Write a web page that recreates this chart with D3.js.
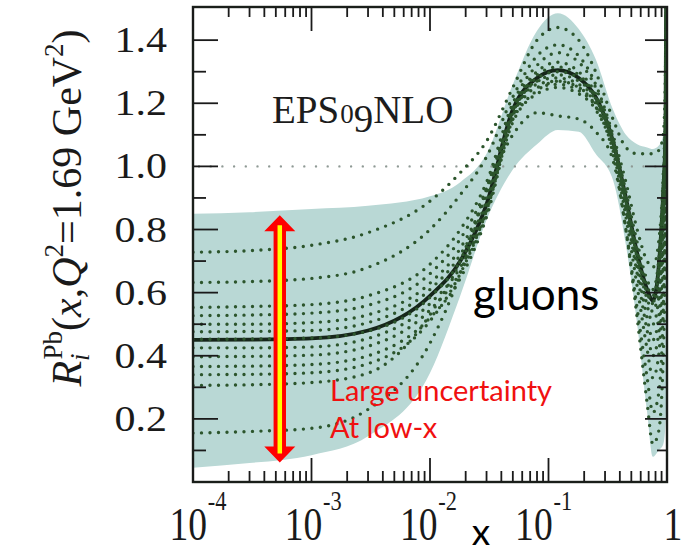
<!DOCTYPE html>
<html>
<head>
<meta charset="utf-8">
<script src="https://cdn.jsdelivr.net/npm/d3@7"></script>
<style>
  html, body { margin: 0; padding: 0; background: #fff; }
  svg { display: block; }
</style>
</head>
<body>
<svg id="chart" width="690" height="554"></svg>
<script>
// Sampling points in x (Bjorken x)
const xKnots = [1e-4, 3e-4, 1e-3, 3e-3, 0.01, 0.018, 0.03, 0.05, 0.08, 0.12, 0.18, 0.25, 0.35, 0.45, 0.56, 0.68, 0.76, 0.85, 0.93, 0.97, 1.0];

// Uncertainty band (upper / lower edge)
const bandUpper = [0.85, 0.855, 0.865, 0.875, 0.905, 0.95, 1.04, 1.26, 1.43, 1.485, 1.435, 1.34, 1.18, 1.10, 1.07, 1.06, 1.055, 1.065, 1.10, 1.30, 2.0];
const bandLower = [0.045, 0.06, 0.085, 0.145, 0.345, 0.59, 0.83, 0.99, 1.07, 1.115, 1.11, 1.04, 0.957, 0.75, 0.50, 0.22, 0.08, 0.10, 0.12, 0.18, 0.30];

// Central fit
const central = [0.45, 0.451, 0.455, 0.48, 0.59, 0.70, 0.88, 1.18, 1.28, 1.305, 1.28, 1.22, 1.08, 0.90, 0.725, 0.61, 0.575, 0.68, 0.92, 1.10, 2.0];

// Error-set members (dotted)
const member1  = [0.728, 0.733, 0.75, 0.79, 0.89, 0.98, 1.08, 1.25, 1.40, 1.44, 1.40, 1.30, 1.15, 1.06, 1.04, 1.04, 1.04, 1.05, 1.10, 1.30, 2.0];
const member2  = [0.632, 0.635, 0.645, 0.68, 0.80, 0.91, 1.03, 1.22, 1.35, 1.385, 1.35, 1.26, 1.10, 0.95, 0.80, 0.70, 0.68, 0.76, 0.98, 1.20, 2.0];
const member3  = [0.553, 0.556, 0.562, 0.59, 0.69, 0.80, 0.95, 1.20, 1.32, 1.36, 1.33, 1.25, 1.09, 0.92, 0.76, 0.64, 0.61, 0.70, 0.95, 1.15, 2.0];
const member4  = [0.527, 0.529, 0.535, 0.56, 0.66, 0.77, 0.93, 1.19, 1.30, 1.33, 1.30, 1.23, 1.08, 0.91, 0.74, 0.62, 0.59, 0.68, 0.93, 1.10, 2.0];
const member5  = [0.50, 0.50, 0.505, 0.53, 0.63, 0.74, 0.91, 1.18, 1.29, 1.315, 1.29, 1.22, 1.08, 0.90, 0.73, 0.60, 0.57, 0.67, 0.92, 1.10, 2.0];
const member6  = [0.476, 0.477, 0.48, 0.505, 0.61, 0.72, 0.89, 1.18, 1.28, 1.30, 1.28, 1.22, 1.085, 0.895, 0.72, 0.60, 0.565, 0.66, 0.91, 1.10, 2.0];
const member7  = [0.452, 0.453, 0.456, 0.478, 0.585, 0.70, 0.875, 1.17, 1.27, 1.29, 1.27, 1.215, 1.075, 0.89, 0.71, 0.58, 0.54, 0.62, 0.88, 1.10, 2.0];
const member8  = [0.425, 0.425, 0.428, 0.455, 0.565, 0.68, 0.86, 1.16, 1.27, 1.28, 1.26, 1.21, 1.07, 0.88, 0.70, 0.56, 0.50, 0.58, 0.85, 1.10, 2.0];
const member9  = [0.397, 0.398, 0.402, 0.43, 0.545, 0.665, 0.85, 1.16, 1.26, 1.27, 1.25, 1.20, 1.07, 0.87, 0.68, 0.52, 0.45, 0.52, 0.80, 1.05, 2.0];
const member10 = [0.366, 0.367, 0.372, 0.40, 0.52, 0.645, 0.84, 1.15, 1.25, 1.26, 1.24, 1.19, 1.06, 0.86, 0.66, 0.48, 0.40, 0.47, 0.75, 1.00, 2.0];
const member11 = [0.34, 0.341, 0.346, 0.375, 0.51, 0.66, 0.86, 1.14, 1.23, 1.25, 1.23, 1.18, 1.05, 0.84, 0.62, 0.42, 0.33, 0.40, 0.70, 1.00, 2.0];
const member12 = [0.306, 0.308, 0.315, 0.345, 0.53, 0.70, 0.92, 1.10, 1.17, 1.16, 1.15, 1.11, 1.02, 0.80, 0.55, 0.33, 0.22, 0.28, 0.55, 0.90, 2.0];
const member13 = [0.155, 0.16, 0.17, 0.23, 0.44, 0.66, 0.93, 1.15, 1.24, 1.27, 1.25, 1.19, 1.04, 0.80, 0.52, 0.25, 0.12, 0.16, 0.40, 0.80, 2.0];
const members = [member1, member2, member3, member4, member5, member6, member7, member8, member9, member10, member11, member12, member13];

// Axis ticks and labels
const xDecades = [-4, -3, -2, -1, 0];
const yTickValues = [0.2, 0.4, 0.6, 0.8, 1.0, 1.2, 1.4];
const yTickLabels = ["0.2", "0.4", "0.6", "0.8", "1.0", "1.2", "1.4"];
const yMinorValues = [0.1, 0.3, 0.5, 0.7, 0.9, 1.1, 1.3];

// Annotation arrow (x position, top and bottom value)
const arrowX = 5.4e-4;
const arrowTop = 0.845;
const arrowBottom = 0.062;

const svg = d3.select("#chart");
const x = d3.scaleLog().domain([1e-4, 1]).range([193, 667]);
const y = d3.scaleLinear().domain([0, 1.505]).range([482, 7]);

const [x0, x1] = x.range();
const [yb, yt] = y.range();

svg.append("defs").append("clipPath").attr("id", "plotclip")
  .append("rect").attr("x", x0).attr("y", yt).attr("width", x1 - x0).attr("height", yb - yt);

const plot = svg.append("g").attr("clip-path", "url(#plotclip)");

const pts = arr => xKnots.map((xv, i) => [xv, arr[i]]);

// band
const area = d3.area()
  .x(d => x(d[0]))
  .y0(d => y(d[1]))
  .y1(d => y(d[2]))
  .curve(d3.curveMonotoneX);
plot.append("path")
  .datum(xKnots.map((xv, i) => [xv, bandLower[i], bandUpper[i]]))
  .attr("d", area)
  .attr("fill", "#b9d8d5");

// reference line at R = 1
plot.append("line")
  .attr("x1", x0 + 6).attr("x2", x1)
  .attr("y1", y(1)).attr("y2", y(1))
  .attr("stroke", "#8f9a95")
  .attr("stroke-width", 2.4)
  .attr("stroke-linecap", "round")
  .attr("stroke-dasharray", "0 11.7");

const line = d3.line()
  .x(d => x(d[0]))
  .y(d => y(d[1]))
  .curve(d3.curveMonotoneX);

// central fit (drawn under the dotted members)
plot.append("path")
  .attr("d", line(pts(central)))
  .attr("fill", "none")
  .attr("stroke", "#16261a")
  .attr("stroke-width", 3.8);

// error-set members
plot.selectAll("path.member")
  .data(members)
  .join("path")
  .attr("class", "member")
  .attr("d", m => line(pts(m)))
  .attr("fill", "none")
  .attr("stroke", "#2c552c")
  .attr("stroke-width", 3.4)
  .attr("stroke-linecap", "round")
  .attr("stroke-dasharray", "0 8.5");

// frame
svg.append("rect")
  .attr("x", x0).attr("y", yt)
  .attr("width", x1 - x0).attr("height", yb - yt)
  .attr("fill", "none")
  .attr("stroke", "#1a1f1a")
  .attr("stroke-width", 2.4);

// x ticks (bottom and top)
const ticks = svg.append("g").attr("stroke", "#1a1a1a").attr("stroke-width", 1.8);
const xMajor = xDecades.map(k => Math.pow(10, k));
const xMinor = [];
xDecades.slice(0, -1).forEach(k => { for (let m = 2; m <= 9; m++) xMinor.push(m * Math.pow(10, k)); });

xMajor.forEach(v => {
  ticks.append("line").attr("x1", x(v)).attr("x2", x(v)).attr("y1", yb).attr("y2", yb - 24);
  ticks.append("line").attr("x1", x(v)).attr("x2", x(v)).attr("y1", yt).attr("y2", yt + 24);
});
xMinor.forEach(v => {
  ticks.append("line").attr("x1", x(v)).attr("x2", x(v)).attr("y1", yb).attr("y2", yb - 11);
  ticks.append("line").attr("x1", x(v)).attr("x2", x(v)).attr("y1", yt).attr("y2", yt + 10);
});

// y ticks (left and right)
yTickValues.forEach(v => {
  ticks.append("line").attr("x1", x0).attr("x2", x0 + 25).attr("y1", y(v)).attr("y2", y(v));
  ticks.append("line").attr("x1", x1).attr("x2", x1 - 22).attr("y1", y(v)).attr("y2", y(v));
});
yMinorValues.forEach(v => {
  ticks.append("line").attr("x1", x0).attr("x2", x0 + 13).attr("y1", y(v)).attr("y2", y(v));
  ticks.append("line").attr("x1", x1).attr("x2", x1 - 10).attr("y1", y(v)).attr("y2", y(v));
});

// y tick labels
const serif = "'Liberation Serif', 'Times New Roman', serif";
yTickValues.forEach((v, i) => {
  svg.append("text")
    .attr("transform", `translate(167,${y(v) + 12}) scale(1.2,1)`)
    .attr("text-anchor", "end")
    .attr("font-family", serif)
    .attr("font-size", 35)
    .attr("fill", "#1a1a1a")
    .text(yTickLabels[i]);
});

// x tick labels
xDecades.forEach((k, i) => {
  const cx = x(Math.pow(10, k)) + (k === 0 ? 6 : 5 - 3.3 * i);
  const t = svg.append("text")
    .attr("transform", `translate(${cx},540) scale(0.8,1)`)
    .attr("text-anchor", "middle")
    .attr("font-family", serif)
    .attr("font-size", 47)
    .attr("fill", "#1a1a1a");
  if (k === 0) {
    t.text("1");
  } else {
    t.append("tspan").text("10");
    t.append("tspan").attr("font-size", 28).attr("dx", 1).attr("dy", -30).text("-" + Math.abs(k));
  }
});

// y axis title
const yt_ = svg.append("text")
  .attr("transform", "translate(81,208) rotate(-90)")
  .attr("text-anchor", "middle")
  .attr("font-family", serif)
  .attr("font-size", 42)
  .attr("fill", "#1a1a1a");
yt_.append("tspan").attr("font-style", "italic").text("R");
yt_.append("tspan").attr("font-style", "italic").attr("font-size", 27).attr("dy", 8).text("i");
yt_.append("tspan").attr("font-size", 27).attr("dx", -6).attr("dy", -27).text("Pb");
yt_.append("tspan").attr("dy", 19).text("(");
yt_.append("tspan").attr("font-style", "italic").text("x");
yt_.append("tspan").text(",");
yt_.append("tspan").attr("font-style", "italic").text("Q");
yt_.append("tspan").attr("font-size", 27).attr("dy", -18).text("2");
yt_.append("tspan").attr("dy", 18).text("=1.69 GeV");
yt_.append("tspan").attr("font-size", 27).attr("dy", -18).text("2");
yt_.append("tspan").attr("dy", 18).text(")");

// x axis title
svg.append("text")
  .attr("x", 481).attr("y", 545)
  .attr("text-anchor", "middle")
  .attr("font-family", "Lato, 'Open Sans', sans-serif")
  .attr("font-size", 37)
  .attr("fill", "#000")
  .text("x");

// model label with old-style figures
const lab = svg.append("text")
  .attr("x", 272).attr("y", 123)
  .attr("font-family", serif)
  .attr("font-size", 39)
  .attr("fill", "#1c1c1c");
lab.append("tspan").text("EPS");
lab.append("tspan").attr("font-size", 27).attr("dx", 1).text("0");
lab.append("tspan").attr("dy", 9).text("9");
lab.append("tspan").attr("dy", -9).text("NLO");

// parton label
svg.append("text")
  .attr("x", 473).attr("y", 310)
  .attr("font-family", "Lato, 'Open Sans', sans-serif")
  .attr("font-size", 44)
  .attr("fill", "#000")
  .text("gluons");

// annotation arrow
const ax = x(arrowX), ayT = y(arrowTop), ayB = y(arrowBottom);
const hw = 15.5, sw = 6.2, hl = 16;
svg.append("path")
  .attr("d", d3.line()([
    [ax, ayT], [ax + hw, ayT + hl], [ax + sw, ayT + hl], [ax + sw, ayB - hl],
    [ax + hw, ayB - hl], [ax, ayB], [ax - hw, ayB - hl], [ax - sw, ayB - hl],
    [ax - sw, ayT + hl], [ax - hw, ayT + hl]
  ]) + "Z")
  .attr("fill", "#ff0000");
svg.append("line")
  .attr("x1", ax).attr("x2", ax)
  .attr("y1", ayT + 10).attr("y2", ayB - 9)
  .attr("stroke", "#ffff00")
  .attr("stroke-width", 4.5);

// annotation text
const note = svg.append("g")
  .attr("font-family", "Lato, 'Open Sans', sans-serif")
  .attr("font-size", 29)
  .attr("fill", "#f01010");
note.append("text").attr("x", 330).attr("y", 401).text("Large uncertainty");
note.append("text").attr("x", 330).attr("y", 438).text("At low-x");
</script>
</body>
</html>
